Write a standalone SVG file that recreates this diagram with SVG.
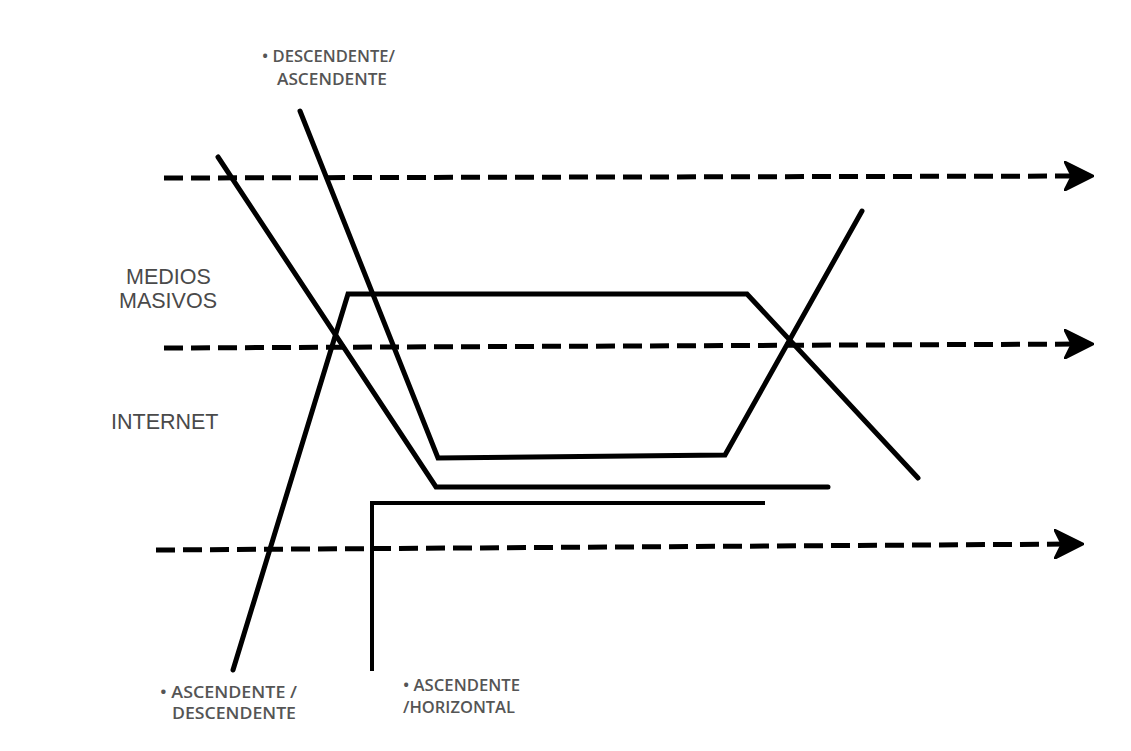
<svg xmlns="http://www.w3.org/2000/svg" width="1131" height="751" viewBox="0 0 1131 751">
<defs>
<marker id="arr" viewBox="0 0 10 10" refX="8" refY="5" markerWidth="6" markerHeight="6" orient="auto" markerUnits="strokeWidth">
<path d="M0,0 L10,5 L0,10 L2.5,5 Z" fill="#000" stroke="#000" stroke-width="0.6" stroke-linejoin="round"/>
</marker>
<style>
.dash{fill:none;stroke:#000;stroke-width:5;stroke-dasharray:19 8;marker-end:url(#arr)}
.ln{fill:none;stroke:#000;stroke-width:5;stroke-linejoin:miter;stroke-linecap:round}
.ln3{fill:none;stroke:#000;stroke-width:4;stroke-linejoin:miter}
.lbl{font-family:"Liberation Sans",Arial,sans-serif;font-size:21.5px;fill:#4a4a4a}
.sm{font-family:"Open Sans","Liberation Sans",sans-serif;font-size:16px;fill:#555;font-weight:600}
</style>
</defs>
<rect width="1131" height="751" fill="#fff"/>
<g id="connectors">
<line class="dash" x1="164" y1="178" x2="1088" y2="176"/>
<line class="dash" x1="164" y1="348" x2="1088" y2="344"/>
<line class="dash" x1="156" y1="550" x2="1078" y2="544"/>
<polyline class="ln" points="218,157 436,487 828,487"/>
<polyline class="ln" points="300,111 438,458 725,455 862,211"/>
<polyline class="ln" points="233,670 348,294 747,294 918,478"/>
<polyline class="ln3" points="372,671 372,503 765,503"/>
</g>
<g id="label-medios"><text class="lbl" x="126" y="284">MEDIOS</text><text class="lbl" x="119" y="308">MASIVOS</text></g>
<g id="label-internet"><text class="lbl" x="111" y="429">INTERNET</text></g>
<g id="label-desc-asc"><text class="sm" x="262" y="62" textLength="133" lengthAdjust="spacingAndGlyphs">• DESCENDENTE/</text><text class="sm" x="277" y="85" textLength="110" lengthAdjust="spacingAndGlyphs">ASCENDENTE</text></g>
<g id="label-asc-desc"><text class="sm" x="160" y="698" textLength="137" lengthAdjust="spacingAndGlyphs">• ASCENDENTE /</text><text class="sm" x="172" y="719" textLength="124" lengthAdjust="spacingAndGlyphs">DESCENDENTE</text></g>
<g id="label-asc-hor"><text class="sm" x="403" y="691" textLength="117" lengthAdjust="spacingAndGlyphs">• ASCENDENTE</text><text class="sm" x="403" y="713" textLength="112" lengthAdjust="spacingAndGlyphs">/HORIZONTAL</text></g>
</svg>
